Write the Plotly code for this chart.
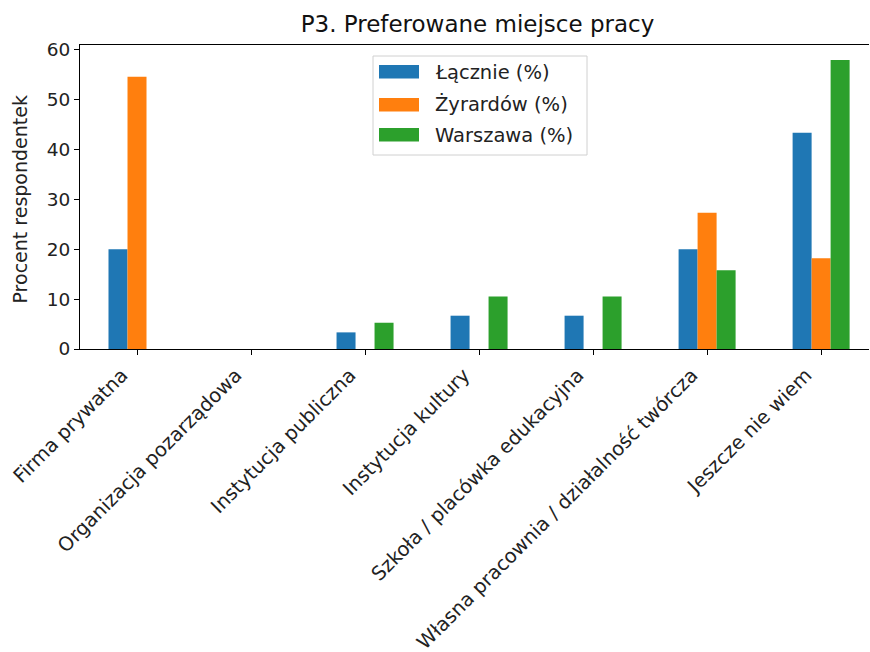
import plotly.graph_objects as go

categories = ["Firma prywatna", "Organizacja pozarządowa", "Instytucja publiczna",
              "Instytucja kultury", "Szkoła / placówka edukacyjna",
              "Własna pracownia / działalność twórcza", "Jeszcze nie wiem"]
lacznie = [20.0, 0.0, 3.33, 6.67, 6.67, 20.0, 43.33]
zyrardow = [54.55, 0.0, 0.0, 0.0, 0.0, 27.27, 18.18]
warszawa = [0.0, 0.0, 5.26, 10.53, 10.53, 15.79, 57.89]
series_names = ["Łącznie (%)", "Żyrardów (%)", "Warszawa (%)"]
colors = ["#1f77b4", "#ff7f0e", "#2ca02c"]
y_title = "Procent respondentek"

W, H = 870, 652
L, R, T, B = 80, 1, 45, 303
pw, ph = W - L - R, H - T - B


def px(xp):
    return (xp - L) / pw


def py(yp):
    return (H - B - yp) / ph


x = list(range(len(categories)))
fig = go.Figure()
for name, vals, c in zip(series_names, [lacznie, zyrardow, warszawa], colors):
    fig.add_trace(go.Bar(x=x, y=vals, name=name, marker=dict(color=c, line=dict(width=0)),
                         showlegend=False))

font = "DejaVu Sans, sans-serif"
shapes = [dict(type="rect", xref="paper", yref="paper",
               x0=px(373), x1=px(587), y0=py(155), y1=py(56),
               line=dict(color="#d0d0d0", width=1), fillcolor="rgba(255,255,255,0.8)", layer="above")]
annotations = []
rows = [65, 98, 128]
for i, (name, c) in enumerate(zip(series_names, colors)):
    top = rows[i]
    shapes.append(dict(type="rect", xref="paper", yref="paper",
                       x0=px(379), x1=px(419), y0=py(top + 13.5), y1=py(top),
                       line=dict(width=0), fillcolor=c, layer="above"))
    annotations.append(dict(text=name, xref="paper", yref="paper", x=px(433), y=py(top + 7),
                            xanchor="left", yanchor="middle", showarrow=False,
                            font=dict(size=19.5, color="#222")))
annotations.append(dict(text=y_title, xref="paper", yref="paper", x=px(19), y=py(199.5),
                        xanchor="center", yanchor="middle", textangle=-90, showarrow=False,
                        font=dict(size=19, color="#222")))

fig.update_layout(
    width=W, height=H, autosize=False,
    paper_bgcolor="white", plot_bgcolor="white",
    margin=dict(l=L, r=R, t=T, b=B, autoexpand=False),
    barmode="group", bargap=0.5, bargroupgap=0,
    font=dict(family=font, size=18, color="#222"),
    title=dict(text="P3. Preferowane miejsce pracy", x=px(477.5), xref="paper", xanchor="center",
               y=1 - 24 / H, yanchor="middle", font=dict(size=23, color="#111")),
    shapes=shapes, annotations=annotations,
    showlegend=False,
)
fig.update_xaxes(range=[-0.5, 6.42], tickvals=x, ticktext=categories, tickangle=-45,
                 showline=True, linecolor="black", linewidth=1, mirror=True,
                 ticks="outside", ticklen=5, tickcolor="black", showgrid=False,
                 ticklabelshift=-15, ticklabelstandoff=1,
                 automargin=False, tickfont=dict(size=19.5, color="#222"))
fig.update_yaxes(range=[0, 60.9], tickvals=[0, 10, 20, 30, 40, 50, 60],
                 showline=True, linecolor="black", linewidth=1,
                 ticks="outside", ticklen=5, tickcolor="black", showgrid=False,
                 zeroline=False, automargin=False, tickfont=dict(size=18.5, color="#222"))

fig.write_html("out.html", post_script="document.body.style.margin='0';",
               config={"displayModeBar": False})
